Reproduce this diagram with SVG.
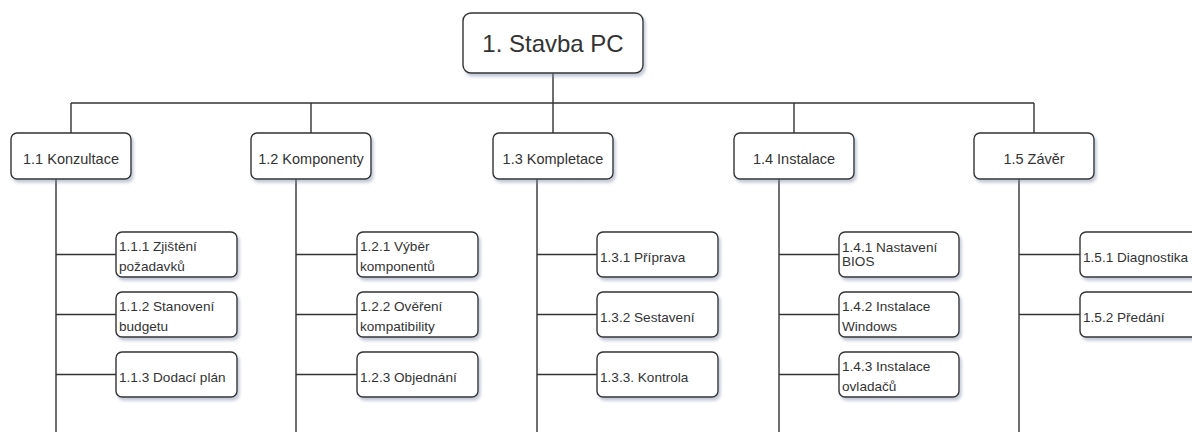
<svg xmlns="http://www.w3.org/2000/svg" width="1192" height="432" viewBox="0 0 1192 432">
  <defs>
    <filter id="shadow" x="-10%" y="-20%" width="130%" height="150%">
      <feDropShadow dx="2" dy="3" stdDeviation="1.6" flood-color="#7f8aa8" flood-opacity="0.45"/>
    </filter>
  </defs>
  <style>
    .box { fill: #ffffff; stroke: #333333; stroke-width: 1.4; filter: url(#shadow); }
    .wire { fill: none; stroke: #333333; stroke-width: 1.4; }
    text { font-family: "Liberation Sans", Arial, sans-serif; fill: #333333; }
    .root { font-size: 24px; text-anchor: middle; }
    .lvl1 { font-size: 14.5px; text-anchor: middle; }
    .leaf { font-size: 13.6px; }
  </style>
  <rect width="1192" height="432" fill="#ffffff"/>

  <!-- connectors -->
  <g id="connectors" class="wire">
    <path d="M553 73V103"/>
    <path d="M71 103H1034"/>
    <path d="M71 103V133M311 103V133M553 103V133M794 103V133M1034 103V133"/>
    <!-- 1.1 branch -->
    <path d="M56 179V432M56 254.5H116M56 314.5H116M56 374.5H116"/>
    <!-- 1.2 branch -->
    <path d="M296 179V432M296 254.5H357M296 314.5H357M296 374.5H357"/>
    <!-- 1.3 branch -->
    <path d="M537 179V432M537 254.5H597M537 314.5H597M537 374.5H597"/>
    <!-- 1.4 branch -->
    <path d="M779 179V432M779 254.5H839M779 314.5H839M779 374.5H839"/>
    <!-- 1.5 branch -->
    <path d="M1019 179V432M1019 254.5H1080M1019 314.5H1080"/>
  </g>

  <!-- root -->
  <g id="n1">
    <rect class="box" x="463" y="13" width="180" height="60" rx="8"/>
    <text class="root" x="553" y="52">1. Stavba PC</text>
  </g>

  <!-- level 1 -->
  <g id="n1_1">
    <rect class="box" x="11" y="133" width="120" height="46" rx="6"/>
    <text class="lvl1" x="71" y="164">1.1 Konzultace</text>
  </g>
  <g id="n1_2">
    <rect class="box" x="251" y="133" width="120" height="46" rx="6"/>
    <text class="lvl1" x="311" y="164">1.2 Komponenty</text>
  </g>
  <g id="n1_3">
    <rect class="box" x="493" y="133" width="120" height="46" rx="6"/>
    <text class="lvl1" x="553" y="164">1.3 Kompletace</text>
  </g>
  <g id="n1_4">
    <rect class="box" x="734" y="133" width="120" height="46" rx="6"/>
    <text class="lvl1" x="794" y="164">1.4 Instalace</text>
  </g>
  <g id="n1_5">
    <rect class="box" x="974" y="133" width="120" height="46" rx="6"/>
    <text class="lvl1" x="1034" y="164">1.5 Závěr</text>
  </g>

  <!-- 1.1 children -->
  <g id="n1_1_1">
    <rect class="box" x="116" y="232" width="121" height="45" rx="6"/>
    <text class="leaf" x="119" y="251">1.1.1 Zjištění</text>
    <text class="leaf" x="119" y="271">požadavků</text>
  </g>
  <g id="n1_1_2">
    <rect class="box" x="116" y="292" width="121" height="45" rx="6"/>
    <text class="leaf" x="119" y="311">1.1.2 Stanovení</text>
    <text class="leaf" x="119" y="331">budgetu</text>
  </g>
  <g id="n1_1_3">
    <rect class="box" x="116" y="352" width="121" height="45" rx="6"/>
    <text class="leaf" x="119" y="381.5">1.1.3 Dodací plán</text>
  </g>

  <!-- 1.2 children -->
  <g id="n1_2_1">
    <rect class="box" x="357" y="232" width="121" height="45" rx="6"/>
    <text class="leaf" x="360" y="251">1.2.1 Výběr</text>
    <text class="leaf" x="360" y="271">komponentů</text>
  </g>
  <g id="n1_2_2">
    <rect class="box" x="357" y="292" width="121" height="45" rx="6"/>
    <text class="leaf" x="360" y="311">1.2.2 Ověření</text>
    <text class="leaf" x="360" y="331">kompatibility</text>
  </g>
  <g id="n1_2_3">
    <rect class="box" x="357" y="352" width="121" height="45" rx="6"/>
    <text class="leaf" x="360" y="381.5">1.2.3 Objednání</text>
  </g>

  <!-- 1.3 children -->
  <g id="n1_3_1">
    <rect class="box" x="597" y="232" width="121" height="45" rx="6"/>
    <text class="leaf" x="600" y="261.5">1.3.1 Příprava</text>
  </g>
  <g id="n1_3_2">
    <rect class="box" x="597" y="292" width="121" height="45" rx="6"/>
    <text class="leaf" x="600" y="321.5">1.3.2 Sestavení</text>
  </g>
  <g id="n1_3_3">
    <rect class="box" x="597" y="352" width="121" height="45" rx="6"/>
    <text class="leaf" x="600" y="381.5">1.3.3. Kontrola</text>
  </g>

  <!-- 1.4 children -->
  <g id="n1_4_1">
    <rect class="box" x="839" y="232" width="120" height="45" rx="6"/>
    <text class="leaf" x="842" y="251.5">1.4.1 Nastavení</text>
    <text class="leaf" x="842" y="265.5">BIOS</text>
  </g>
  <g id="n1_4_2">
    <rect class="box" x="839" y="292" width="120" height="45" rx="6"/>
    <text class="leaf" x="842" y="311">1.4.2 Instalace</text>
    <text class="leaf" x="842" y="331">Windows</text>
  </g>
  <g id="n1_4_3">
    <rect class="box" x="839" y="352" width="120" height="45" rx="6"/>
    <text class="leaf" x="842" y="371">1.4.3 Instalace</text>
    <text class="leaf" x="842" y="391">ovladačů</text>
  </g>

  <!-- 1.5 children -->
  <g id="n1_5_1">
    <rect class="box" x="1080" y="232" width="121" height="45" rx="6"/>
    <text class="leaf" x="1083" y="261.5">1.5.1 Diagnostika</text>
  </g>
  <g id="n1_5_2">
    <rect class="box" x="1080" y="292" width="121" height="45" rx="6"/>
    <text class="leaf" x="1083" y="321.5">1.5.2 Předání</text>
  </g>
</svg>
